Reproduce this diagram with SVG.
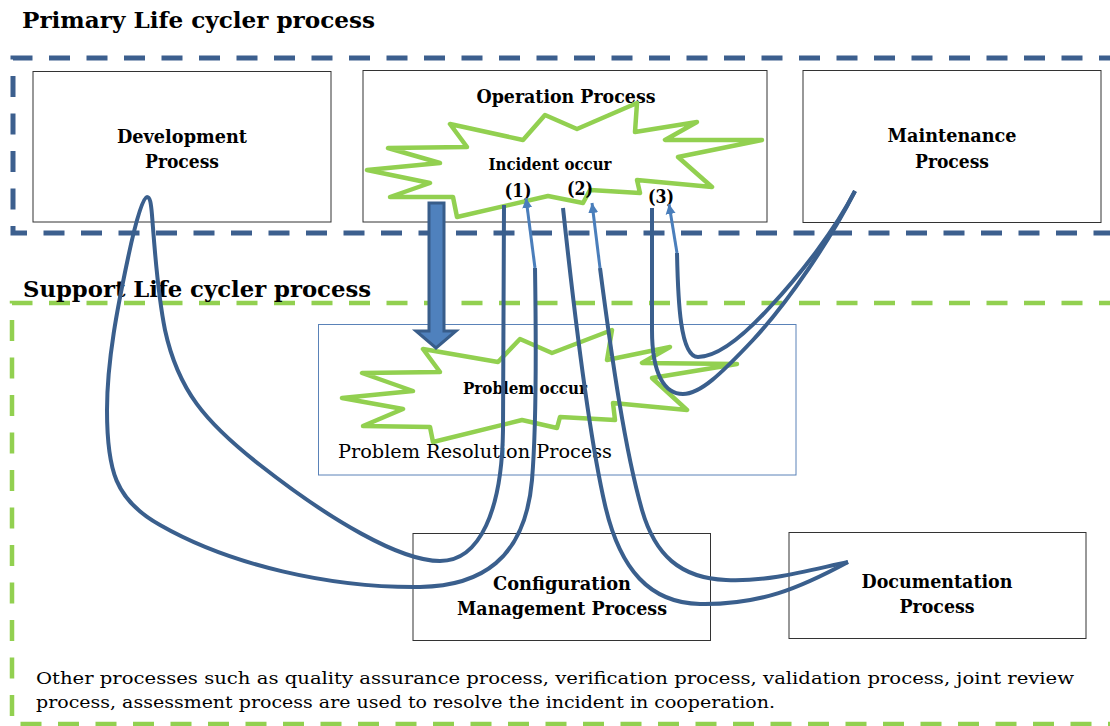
<svg xmlns="http://www.w3.org/2000/svg" width="1110" height="726" viewBox="0 0 1110 726">
<defs>
<style>
.bt{font-family:"DejaVu Serif","Liberation Serif",serif;font-weight:bold;fill:#000}
.rt{font-family:"DejaVu Serif","Liberation Serif",serif;font-weight:normal;fill:#000}
.box{fill:#fff;stroke:#333;stroke-width:1}
.burst{fill:#fff;stroke:#92D050;stroke-width:4.5;stroke-linejoin:round}
.curve{fill:none;stroke:#3A5F8D;stroke-width:4;stroke-linecap:butt}
.lite{fill:none;stroke:#4A7EBB;stroke-width:3;marker-end:url(#ah)}
</style>
<marker id="ah" viewBox="0 0 10 10" refX="10" refY="5" markerWidth="10" markerHeight="11" markerUnits="userSpaceOnUse" orient="auto">
<path d="M0,0 L10,5 L0,10 z" fill="#4A7EBB"/>
</marker>
</defs>
<rect width="1110" height="726" fill="#fff"/>

<g id="primary-frame">
<path d="M1120,58 L13,58 L13,233 L1120,233" fill="none" stroke="#3C5F8E" stroke-width="5" stroke-dasharray="21 16.5"/>
<text class="bt" x="22" y="28" font-size="22.5" textLength="353" lengthAdjust="spacingAndGlyphs">Primary Life cycler process</text>
</g>

<g id="support-frame">
<path d="M1120,303 L12,303 L12,724 L1120,724" fill="none" stroke="#92D050" stroke-width="4.5" stroke-dasharray="21 16.5"/>
<text class="bt" x="23" y="297" font-size="22.5" textLength="348" lengthAdjust="spacingAndGlyphs">Support Life cycler process</text>
</g>

<g id="development">
<rect class="box" x="33" y="71.5" width="298" height="150.5"/>
<text class="bt" x="182" y="143" font-size="18.5" text-anchor="middle" textLength="130" lengthAdjust="spacingAndGlyphs">Development</text>
<text class="bt" x="182" y="168" font-size="18.5" text-anchor="middle" textLength="74" lengthAdjust="spacingAndGlyphs">Process</text>
</g>

<g id="operation">
<rect class="box" x="363" y="70.5" width="404" height="151.5"/>
<text class="bt" x="566" y="103" font-size="18.5" text-anchor="middle" textLength="179" lengthAdjust="spacingAndGlyphs">Operation Process</text>
</g>

<g id="incident">
<polygon class="burst" points="450,124 523,140 545,115 577,129 637,103 635,132 697,122 665,140 762,140 678,157 712,187 637,180 640,193 590,190 583,203 548,196 457,217 453,197 390,197 430,183 367,170 440,163 388,148 467,147"/>
<text class="bt" x="550" y="170" font-size="16.5" text-anchor="middle" textLength="123" lengthAdjust="spacingAndGlyphs">Incident occur</text>
<text class="bt" x="518" y="197" font-size="19" text-anchor="middle" textLength="27" lengthAdjust="spacingAndGlyphs">(1)</text>
<text class="bt" x="580" y="195" font-size="19" text-anchor="middle" textLength="26" lengthAdjust="spacingAndGlyphs">(2)</text>
<text class="bt" x="661" y="203" font-size="19" text-anchor="middle" textLength="26" lengthAdjust="spacingAndGlyphs">(3)</text>
</g>

<g id="maintenance">
<rect class="box" x="803" y="70.5" width="298" height="152"/>
<text class="bt" x="952" y="142" font-size="18.5" text-anchor="middle" textLength="129" lengthAdjust="spacingAndGlyphs">Maintenance</text>
<text class="bt" x="952" y="168" font-size="18.5" text-anchor="middle" textLength="74" lengthAdjust="spacingAndGlyphs">Process</text>
</g>

<g id="problem-resolution">
<rect x="318.5" y="324.5" width="477.5" height="150.5" fill="#fff" stroke="#5A82B8" stroke-width="1"/>
<text class="rt" x="338" y="458" font-size="19" textLength="274" lengthAdjust="spacingAndGlyphs">Problem Resolution Process</text>
</g>

<g id="problem">
<polygon class="burst" points="423,349 498,362 520,339 552,353 612,330 607,360 670,347 642,363 737,364 652,378 687,410 613,403 615,420 560,417 557,428 522,420 433,442 430,427 363,426 403,409 342,398 413,391 362,373 440,372"/>
<text class="bt" x="525" y="394" font-size="16.5" text-anchor="middle" textLength="124" lengthAdjust="spacingAndGlyphs">Problem occur</text>
</g>

<g id="configuration">
<rect class="box" x="413" y="533.5" width="297.5" height="107"/>
<text class="bt" x="562" y="590" font-size="18.5" text-anchor="middle" textLength="138" lengthAdjust="spacingAndGlyphs">Configuration</text>
<text class="bt" x="562" y="615" font-size="18.5" text-anchor="middle" textLength="210" lengthAdjust="spacingAndGlyphs">Management Process</text>
</g>

<g id="documentation">
<rect class="box" x="789" y="532.5" width="297" height="106"/>
<text class="bt" x="937" y="588" font-size="18.5" text-anchor="middle" textLength="151" lengthAdjust="spacingAndGlyphs">Documentation</text>
<text class="bt" x="937" y="613" font-size="18.5" text-anchor="middle" textLength="75" lengthAdjust="spacingAndGlyphs">Process</text>
</g>

<g id="note">
<text class="rt" x="36" y="684" font-size="17.5" textLength="1038" lengthAdjust="spacingAndGlyphs">Other processes such as quality assurance process, verification process, validation process, joint review</text>
<text class="rt" x="36" y="708" font-size="17.5" textLength="739" lengthAdjust="spacingAndGlyphs">process, assessment process are used to resolve the incident in cooperation.</text>
</g>

<g id="connectors">
<polygon points="429,203 444,203 444,331 456,331 436,348 416,331 429,331" fill="#4F81BD" stroke="#385D8A" stroke-width="3" stroke-linejoin="miter"/>
<path class="curve" d="M504,205 L503,430 C502,510 480,561 440,561 C400,561 330,520 260,465 C205,422 178,390 165,330 C157,290 154,240 152,215 C151,203 150,197 147,197 C143,197 136,220 128,258 C118,305 107,360 107,410 C107,470 115,500 160,525 C230,565 330,588 420,587 C480,586 525,560 532,480 C537,420 536,330 535,268"/>
<path class="lite" d="M535,268 L526,198"/>
<path class="curve" d="M563,208 C575,320 590,440 605,505 C620,570 650,603 700,604 C760,605 800,588 848,562"/>
<path class="curve" d="M600,268 C612,360 625,450 642,510 C655,555 680,578 726,580 C770,582 810,570 848,562"/>
<path class="lite" d="M600,268 L592,203"/>
<path class="curve" d="M652,208 L652,330 C652,375 665,394 683,394 C700,394 720,375 753,340 C790,300 830,240 855,191"/>
<path class="curve" d="M677,253 C678,300 680,357 698,357 C715,357 740,340 770,307 C800,275 835,230 855,191"/>
<path class="lite" d="M677,253 L669,204"/>
</g>
</svg>
